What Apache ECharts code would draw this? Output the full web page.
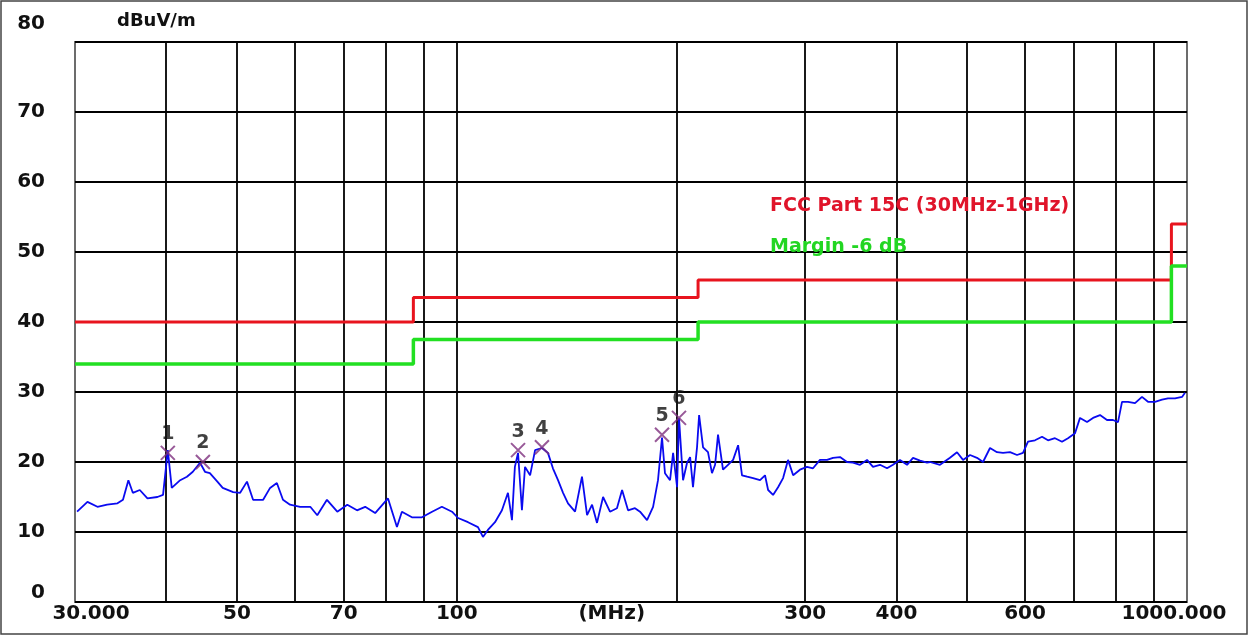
<!DOCTYPE html>
<html>
<head>
<meta charset="utf-8">
<script src="https://cdn.jsdelivr.net/npm/echarts@6/dist/echarts.min.js"></script>
<style>
html,body{margin:0;padding:0;background:#fff;}
#c{width:1249px;height:636px;}
</style>
</head>
<body>
<div id="c"></div>
<script>
// ---- data (MHz / dBuV/m) ----
const traceFreq = [30.2,31.2,32.2,33.2,34.3,34.9,35.5,36.0,36.8,37.7,38.9,39.6,40.2,40.7,41.8,42.7,43.5,44.5,45.2,45.9,47.0,47.8,49.4,50.5,51.6,52.6,54.3,55.5,56.7,57.8,59.1,61.0,63.0,64.4,66.4,68.6,70.8,73.0,74.9,77.3,80.5,82.8,84.1,86.8,89.6,92.5,95.4,98.5,100.4,103.6,106.9,108.6,110.3,112.8,115.3,117.5,119.0,120.1,121.3,122.8,124.0,126.0,128.0,130.8,133.3,135.4,137.6,139.8,142.0,145.2,148.4,150.8,153.2,155.6,158.6,162.1,165.7,168.4,171.6,175.4,178.2,182.2,185.7,188.6,191.0,192.8,195.9,197.8,200.3,201.5,204.1,206.7,208.7,210.6,213.3,214.7,217.4,220.8,223.6,225.8,227.9,231.5,235.2,239.0,242.8,245.8,249.8,254.5,260.2,264.3,266.9,271.1,275.4,279.8,284.2,288.8,295.1,301.7,307.5,314.3,321.4,327.5,334.8,342.3,348.8,356.6,364.6,371.5,379.8,388.3,395.7,404.5,413.6,421.5,430.9,440.5,444.7,458.9,473.6,484.2,493.5,504.5,515.7,525.6,537.3,549.3,559.8,572.3,585.1,596.2,605.7,619.2,633.1,645.1,659.5,674.3,687.1,702.5,713.6,729.6,743.5,760.1,777.0,791.9,804.5,814.7,830.2,848.8,867.7,884.3,904.0,924.2,941.8,962.9,984.4,993.7];
const traceLevel = [12.9,14.3,13.6,13.9,14.1,14.6,17.4,15.6,16.0,14.8,15.0,15.3,21.7,16.3,17.4,17.9,18.6,19.9,18.6,18.4,17.2,16.3,15.7,15.6,17.2,14.6,14.6,16.3,17.0,14.6,13.9,13.6,13.6,12.4,14.6,12.9,13.9,13.1,13.6,12.7,14.8,10.7,12.9,12.1,12.1,12.9,13.6,12.9,12.0,11.4,10.7,9.3,10.3,11.4,13.1,15.6,11.7,19.3,21.3,13.1,19.3,18.1,21.7,22.0,21.3,19.1,17.4,15.6,14.1,12.9,17.9,12.4,13.9,11.3,15.0,12.9,13.4,16.0,13.1,13.4,12.9,11.7,13.6,17.4,23.5,18.4,17.4,21.3,16.4,26.3,17.4,19.9,20.7,16.4,22.1,26.7,22.1,21.4,18.4,19.6,23.9,18.9,19.6,20.3,22.4,18.1,17.9,17.7,17.4,18.1,16.0,15.3,16.4,17.7,20.3,18.1,18.9,19.3,19.1,20.3,20.3,20.6,20.7,20.0,19.9,19.6,20.3,19.3,19.6,19.1,19.6,20.3,19.6,20.6,20.2,19.9,20.0,19.6,20.6,21.4,20.3,21.0,20.6,20.0,22.0,21.4,21.3,21.4,21.0,21.3,22.9,23.1,23.6,23.1,23.4,22.9,23.4,24.1,26.3,25.7,26.3,26.7,26.0,26.0,25.7,28.6,28.6,28.4,29.3,28.6,28.6,28.9,29.1,29.1,29.3,29.9];

const limitFreq  = [30, 87.2, 87.2, 214, 214, 952, 952, 1000];
const limitLevel = [40, 40, 43.5, 43.5, 46, 46, 54, 54];
const marginLevel = [34, 34, 37.5, 37.5, 40, 40, 48, 48];

const markerFreq  = [40.2, 44.9, 121.3, 130.8, 191.0, 201.5];
const markerLevel = [21.3, 20.0, 21.7, 22.1, 23.9, 26.3];
const markerNames = ['1', '2', '3', '4', '5', '6'];

const xGridFreq   = [40, 50, 60, 70, 80, 90, 100, 200, 300, 400, 500, 600, 700, 800, 900];
const xTickValues = [30, 50, 70, 100, 163, 300, 400, 600, 1000];
const xTickLabels = ['30.000', '50', '70', '100', '(MHz)', '300', '400', '600', '1000.000'];

const limitName  = 'FCC Part 15C (30MHz-1GHz)';
const marginName = 'Margin -6 dB';

// ---- chart ----
const FONT = 'DejaVu Sans';
const chart = echarts.init(document.getElementById('c'), null, {renderer: 'canvas'});

const zip = (a, b) => a.map((v, i) => [v, b[i]]);

function xLabel(v) {
  let best = 0, bd = Infinity;
  xTickValues.forEach((t, i) => { const d = Math.abs(Math.log(t) - Math.log(v)); if (d < bd) { bd = d; best = i; } });
  const txt = xTickLabels[best];
  if (best === 0) return '{first|' + txt + '}';
  if (best === xTickValues.length - 1) return '{last|' + txt + '}';
  return '{n|' + txt + '}';
}
const labelBase = {fontFamily: FONT, fontWeight: 'bold', fontSize: 20, color: '#111'};

const option = {
  backgroundColor: '#fff',
  animation: false,
  grid: {left: 75, right: 62, top: 42, bottom: 34, show: true, borderColor: '#6c6c6c', borderWidth: 2, backgroundColor: 'transparent'},
  legend: {
    orient: 'vertical', left: 760, top: 190, itemGap: 19,
    icon: 'none', itemWidth: 0, itemHeight: 0,
    selectedMode: false,
    textStyle: {fontFamily: FONT, fontWeight: 'bold', fontSize: 19, lineHeight: 22},
    data: [
      {name: limitName, textStyle: {color: '#e0142a'}},
      {name: marginName, textStyle: {color: '#22d622'}}
    ]
  },
  xAxis: {
    type: 'log', logBase: 10, min: 30, max: 1000,
    axisLine: {show: false}, axisTick: {show: false},
    splitLine: {show: false}, minorSplitLine: {show: false},
    axisLabel: {
      customValues: xTickValues,
      showMinLabel: true, showMaxLabel: true, hideOverlap: false,
      margin: 2,
      formatter: xLabel,
      ...labelBase,
      rich: {
        n: {...labelBase},
        first: {...labelBase, padding: [0, 0, 0, 32]},
        last: {...labelBase, padding: [0, 26, 0, 0]}
      }
    }
  },
  yAxis: {
    type: 'value', min: 0, max: 80, interval: 10,
    axisLine: {show: false}, axisTick: {show: false},
    splitLine: {show: true, lineStyle: {color: '#000', width: 1.8}},
    axisLabel: {
      margin: 30,
      ...labelBase,
      formatter: function (v) {
        if (v === 80) return '{top|80}';
        if (v === 0) return '{bot|0}';
        return '{n|' + v + '}';
      },
      rich: {
        n: {...labelBase},
        top: {...labelBase, padding: [0, 0, 36, 0]},
        bot: {...labelBase, padding: [0, 0, 18, 0]}
      }
    },
    name: 'dBuV/m', nameLocation: 'end', nameGap: 21,
    nameTextStyle: {fontFamily: FONT, fontWeight: 'bold', fontSize: 18, color: '#111', align: 'left', verticalAlign: 'middle', padding: [0, 0, 0, 42]}
  },
  graphic: [{
    type: 'rect', silent: true, z: 100,
    shape: {x: 1, y: 1, width: 1246, height: 633},
    style: {fill: 'none', stroke: '#444', lineWidth: 1.5}
  }],
  series: [
    {
      name: limitName, type: 'line', data: zip(limitFreq, limitLevel),
      symbol: 'none', lineStyle: {color: '#e8141e', width: 3}, itemStyle: {color: '#e8141e'},
      silent: true, z: 3,
      markLine: {
        silent: true, symbol: 'none', z: 1,
        label: {show: false},
        lineStyle: {color: '#000', width: 1.8, type: 'solid'},
        data: xGridFreq.map(f => ({xAxis: f}))
      }
    },
    {
      name: marginName, type: 'line', data: zip(limitFreq, marginLevel),
      symbol: 'none', lineStyle: {color: '#22e022', width: 3.5}, itemStyle: {color: '#22e022'},
      silent: true, z: 4
    },
    {
      name: 'Trace', type: 'line', data: zip(traceFreq, traceLevel),
      symbol: 'none', lineStyle: {color: '#0a0af0', width: 1.8}, itemStyle: {color: '#0a0af0'},
      silent: true, z: 5
    },
    {
      name: 'Markers', type: 'scatter',
      data: markerFreq.map((f, i) => ({name: markerNames[i], value: [f, markerLevel[i]]})),
      symbol: 'path://M0,0L10,10M10,0L0,10', symbolSize: 14,
      itemStyle: {color: 'rgba(0,0,0,0)', borderColor: '#7e2f7e', borderWidth: 2},
      label: {show: true, position: 'top', distance: 1, formatter: '{b}', fontFamily: FONT, fontWeight: 'bold', fontSize: 19, color: '#111'},
      silent: true, z: 6
    }
  ]
};
chart.setOption(option);
</script>
</body>
</html>
